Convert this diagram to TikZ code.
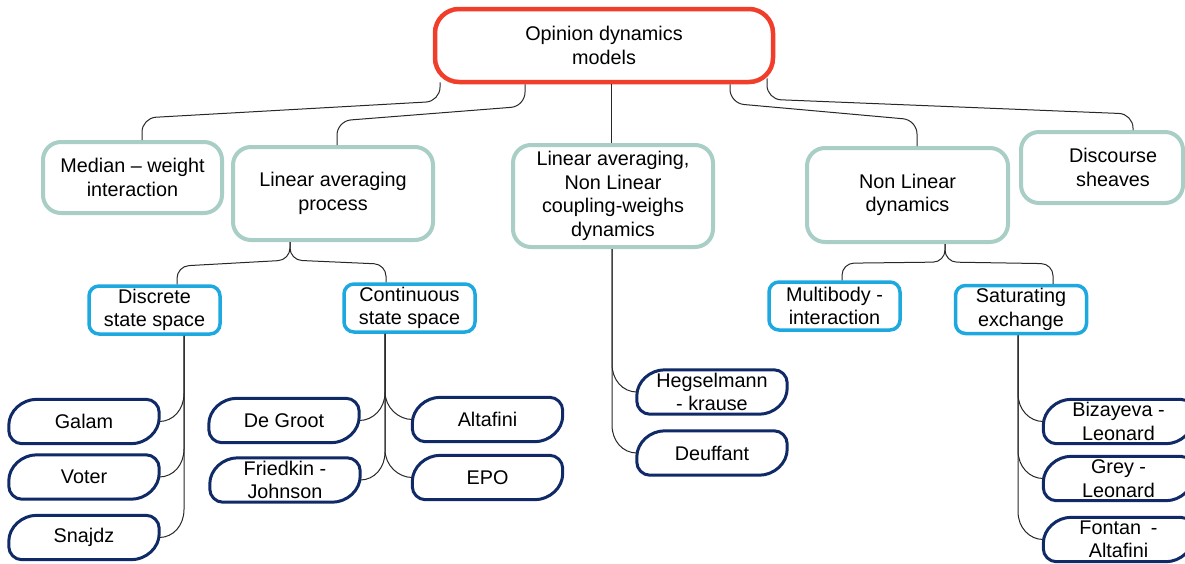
\documentclass[tikz,border=0pt]{standalone}
\usepackage{fontspec}
\setmainfont{Liberation Sans}
\usetikzlibrary{calc}

\definecolor{rootred}{RGB}{240,62,42}
\definecolor{catteal}{RGB}{169,206,198}
\definecolor{subcyan}{RGB}{30,168,224}
\definecolor{leafnavy}{RGB}{16,42,104}
\definecolor{linkgray}{RGB}{40,40,40}

% outline of a leaf box: large rounding top-left and bottom-right, small elsewhere
\newcommand\leafframe[1]{%
  \draw[leafedge]
    ($(#1.north west)+(28,0)$) -- ($(#1.north east)+(-13,0)$)
    .. controls ($(#1.north east)+(-6,0)$) and ($(#1.north east)+(0,6)$) .. ($(#1.north east)+(0,13)$)
    -- ($(#1.south east)+(0,-26)$)
    .. controls ($(#1.south east)+(0,-12)$) and ($(#1.south east)+(-13,0)$) .. ($(#1.south east)+(-28,0)$)
    -- ($(#1.south west)+(13,0)$)
    .. controls ($(#1.south west)+(6,0)$) and ($(#1.south west)+(0,-6)$) .. ($(#1.south west)+(0,-13)$)
    -- ($(#1.north west)+(0,26)$)
    .. controls ($(#1.north west)+(0,12)$) and ($(#1.north west)+(13,0)$) .. ($(#1.north west)+(28,0)$)
    -- cycle;}

% branch from a vertical spine into the side of a leaf
\newcommand\twig[3]{%
  \draw[link] (#1) -- ($(#2 -| #1)+(0,-28)$)
    .. controls ($(#2 -| #1)+(0,-12)$) and ($(#2)+(#3,0)$) .. (#2);}

\begin{document}
\begin{tikzpicture}[x=1pt,y=-1pt,
  txt/.style={font=\fontsize{19.8}{23.5}\selectfont, align=center, inner sep=0pt},
  rootbox/.style={txt, draw=rootred, fill=white, line width=4.5pt, rounded corners=24pt,
    minimum width=338pt, minimum height=73pt},
  catbox/.style={txt, draw=catteal, fill=white, line width=4pt, rounded corners=18pt},
  subbox/.style={txt, draw=subcyan, fill=white, line width=3.5pt, rounded corners=10pt,
    minimum width=131pt, minimum height=48pt},
  leaf/.style={txt, minimum width=150pt, minimum height=44pt},
  leafedge/.style={draw=leafnavy, line width=3pt, line join=round},
  link/.style={draw=linkgray, line width=1pt},
  trunk/.style={link, rounded corners=14pt}]

\fill[white] (0,0) rectangle (1185,563);
\useasboundingbox (0,0) rectangle (1185,563);

% root
\node[rootbox] (root) at (604,45.5) {Opinion dynamics\\models};

% model families
\node[catbox, minimum width=179pt, minimum height=71pt] (median) at (132.5,177.5) {Median -- weight\\interaction};
\node[catbox, minimum width=200pt, minimum height=93pt] (lap) at (333,193.5) {Linear averaging\\process};
\node[catbox, minimum width=200pt, minimum height=102pt] (mid) at (613,196) {Linear averaging,\\Non Linear\\coupling-weighs\\dynamics};
\node[catbox, minimum width=201pt, minimum height=94pt] (nld) at (907.5,195) {Non Linear\\dynamics};
\node[catbox, minimum width=162pt, minimum height=71pt] (ds) at (1102,167.5) {\hspace*{22pt}Discourse\\\hspace*{22pt}sheaves};

% sub-families
\node[subbox] (disc) at (154.5,310) {Discrete\\state space};
\node[subbox] (cont) at (409.5,308) {Continuous\\state space};
\node[subbox] (multi) at (834.5,306) {Multibody -\\interaction};
\node[subbox] (sat) at (1021,309.5) {Saturating\\exchange};

% individual models
\node[leaf] (galam) at (84,421.5) {Galam};
\node[leaf] (voter) at (84,477) {Voter};
\node[leaf] (snajdz) at (84,537.5) {Snajdz};
\node[leaf] (degroot) at (284,420.5) {De Groot};
\node[leaf] (friedkin) at (285,480) {Friedkin -\\Johnson};
\node[leaf] (altafini) at (487.5,419.5) {Altafini};
\node[leaf] (epo) at (487.5,477.5) {EPO};
\node[leaf] (hk) at (712,392) {Hegselmann\\- krause};
\node[leaf] (deffuant) at (712,453) {Deuffant};
\node[leaf] (bl) at (1118.5,421.5) {Bizayeva -\\Leonard};
\node[leaf] (gl) at (1118.5,478.5) {Grey -\\Leonard};
\node[leaf] (fa) at (1118.5,539.5) {Fontan\enspace-\\Altafini};

\foreach \n in {galam,voter,snajdz,degroot,friedkin,altafini,epo,hk,deffuant,bl,gl,fa}
  {\leafframe{\n}}

% root to families
\draw[trunk] ($(root.south)+(-164,-2)$) -- ++(0,19) -- ($(median.north)+(9.5,-22)$) -- ($(median.north)+(9.5,0)$);
\draw[trunk] ($(root.south)+(-79,0)$) -- ++(0,22) -- ($(lap.north)+(4,-24)$) -- ($(lap.north)+(4,0)$);
\draw[link] ($(root.south)+(7,0)$) coordinate (rm) -- (rm |- mid.north);
\draw[trunk] ($(root.south)+(126,0)$) -- ++(0,19) -- ($(nld.north)+(9.5,-26)$) -- ($(nld.north)+(9.5,0)$);
\draw[trunk] ($(root.south)+(163,-6)$) -- ++(0,21) -- ($(ds.north)+(31,-16)$) -- ($(ds.north)+(31,0)$);

% families to sub-families
\coordinate (lapfork) at ($(lap.south)+(-43,0)$);
\draw[trunk, rounded corners=12pt] (lapfork) -- ++(0,18) -- ($(disc.north)+(22.5,-18)$) -- ($(disc.north)+(22.5,0)$);
\draw[trunk, rounded corners=12pt] (lapfork) -- ++(0,18) -- ($(cont.north)+(-23.5,-18)$) -- ($(cont.north)+(-23.5,0)$);
\coordinate (nldfork) at ($(nld.south)+(37.5,0)$);
\draw[trunk, rounded corners=12pt] (nldfork) -- ++(0,18) -- ($(multi.north)+(7.5,-17)$) -- ($(multi.north)+(7.5,0)$);
\draw[trunk, rounded corners=12pt] (nldfork) -- ++(0,18) -- ($(sat.north)+(32,-20)$) -- ($(sat.north)+(32,0)$);

% spines down to the models
\coordinate (dspine) at ($(disc.south)+(29.5,0)$);
\coordinate (cspine) at ($(cont.south)+(-24.5,0)$);
\coordinate (mspine) at ($(mid.south)+(-1,0)$);
\coordinate (sspine) at ($(sat.south)+(-3,0)$);

\twig{dspine}{galam.east}{14}
\twig{dspine}{voter.east}{14}
\twig{dspine}{snajdz.east}{14}
\twig{cspine}{degroot.east}{14}
\twig{cspine}{friedkin.east}{14}
\twig{cspine}{altafini.west}{-14}
\twig{cspine}{epo.west}{-14}
\twig{mspine}{hk.west}{-14}
\twig{mspine}{deffuant.west}{-14}
\twig{sspine}{bl.west}{-14}
\twig{sspine}{gl.west}{-14}
\twig{sspine}{fa.west}{-14}
\end{tikzpicture}
\end{document}
